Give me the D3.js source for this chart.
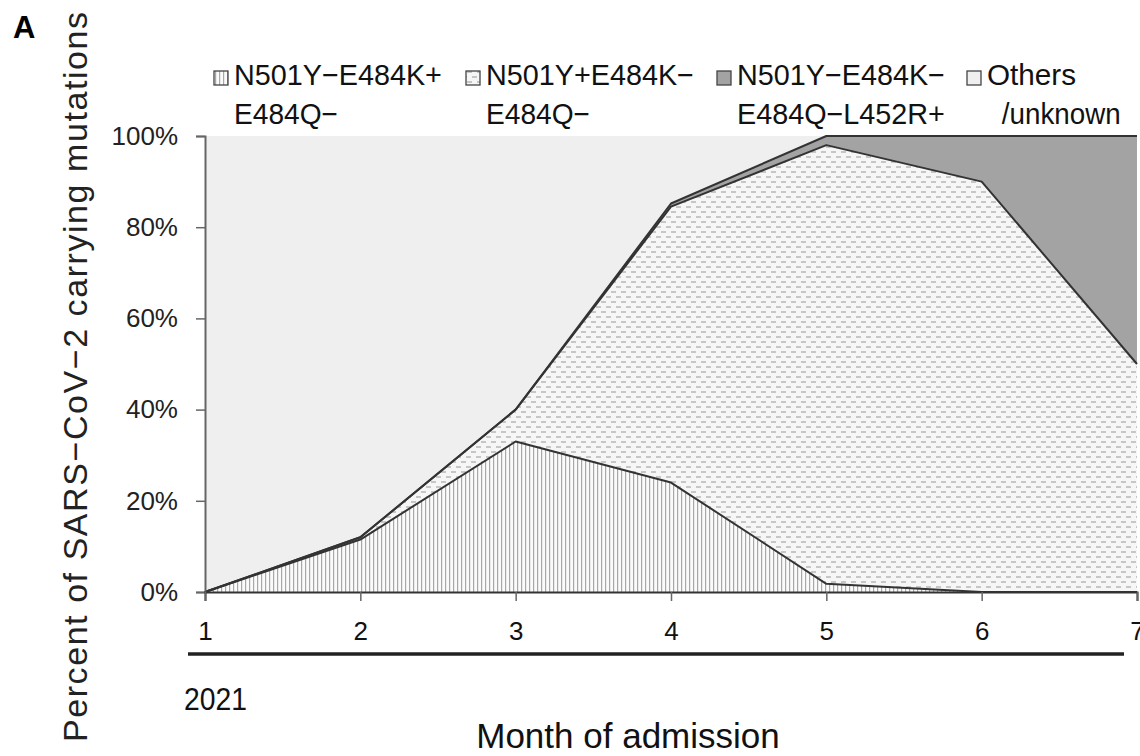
<!DOCTYPE html>
<html>
<head>
<meta charset="utf-8">
<script src="https://cdn.jsdelivr.net/npm/d3@7"></script>
<style>
  body { margin: 0; background: #fff; }
  text { font-family: "Liberation Sans", Arial, sans-serif; }
</style>
</head>
<body>
<script>
// month of admission, 2021
const months = [1, 2, 3, 4, 5, 6, 7];

// percent of cases per month
const e484kPos = [0, 11.5, 33, 24, 1.8, 0, 0];        // N501Y-E484K+E484Q-
const n501yPos = [0, 0.5, 7, 60.5, 96.2, 90, 50];     // N501Y+E484K-E484Q-
const l452rPos = [0, 0, 0, 0.7, 2, 10, 50];           // N501Y-E484K-E484Q-L452R+
const othersUnk = [100, 88, 60, 14.8, 0, 0, 0];       // Others/unknown

const keys = ["e484k", "n501y", "l452r", "others"];
const legendLine1 = ["N501Y\u2212E484K+", "N501Y+E484K\u2212", "N501Y\u2212E484K\u2212", "Others"];
const legendLine2 = ["E484Q\u2212", "E484Q\u2212", "E484Q\u2212L452R+", " /unknown"];
const yTicks = [0, 20, 40, 60, 80, 100];

const rows = months.map((m, i) => ({
  month: m,
  e484k: e484kPos[i],
  n501y: n501yPos[i],
  l452r: l452rPos[i],
  others: othersUnk[i]
}));

const width = 1140, height = 756;
const x0 = 205, x1 = 1137, yTop = 136, yBot = 592;

const svg = d3.select("body").append("svg")
  .attr("width", width)
  .attr("height", height);

const defs = svg.append("defs");

// vertical hatching
const pv = defs.append("pattern")
  .attr("id", "vlines").attr("patternUnits", "userSpaceOnUse")
  .attr("width", 4).attr("height", 4);
pv.append("rect").attr("width", 4).attr("height", 4).attr("fill", "#fbfbfb");
pv.append("rect").attr("x", 1).attr("width", 1.2).attr("height", 4).attr("fill", "#a8a8a8");

// staggered dashes
const pd = defs.append("pattern")
  .attr("id", "dashes").attr("patternUnits", "userSpaceOnUse")
  .attr("width", 10).attr("height", 10);
pd.append("rect").attr("width", 10).attr("height", 10).attr("fill", "#f6f6f6");
pd.append("rect").attr("x", 1).attr("y", 1).attr("width", 5).attr("height", 2).attr("fill", "#c6c6c6");
pd.append("rect").attr("x", 6).attr("y", 6).attr("width", 5).attr("height", 2).attr("fill", "#c6c6c6");
pd.append("rect").attr("x", -4).attr("y", 6).attr("width", 5).attr("height", 2).attr("fill", "#c6c6c6");

const fills = {
  e484k: "url(#vlines)",
  n501y: "url(#dashes)",
  l452r: "#a3a3a3",
  others: "#efefef"
};

const x = d3.scaleLinear().domain([1, 7]).range([x0, x1]);
const y = d3.scaleLinear().domain([0, 100]).range([yBot, yTop]);

const stacked = d3.stack().keys(keys)(rows);

const area = d3.area()
  .x(d => x(d.data.month))
  .y0(d => y(d[0]))
  .y1(d => y(d[1]));

const topLine = d3.line()
  .x(d => x(d.data.month))
  .y(d => y(d[1]));

const g = svg.append("g");

g.selectAll("path.layer")
  .data(stacked)
  .join("path")
  .attr("class", "layer")
  .attr("fill", d => fills[d.key])
  .attr("d", area);

// boundary lines between layers (not the 100% edge)
g.selectAll("path.edge")
  .data(stacked.slice(0, 3))
  .join("path")
  .attr("class", "edge")
  .attr("fill", "none")
  .attr("stroke", "#333")
  .attr("stroke-width", 2)
  .attr("stroke-linejoin", "round")
  .attr("d", topLine);

// y axis
const yAxis = svg.append("g")
  .attr("transform", `translate(${x0},0)`)
  .call(d3.axisLeft(y).tickValues(yTicks).tickSize(9).tickPadding(18).tickFormat(d => d + "%"));
yAxis.select(".domain").attr("stroke", "#666").attr("stroke-width", 2);
yAxis.selectAll(".tick line").attr("stroke", "#666").attr("stroke-width", 1.5);
yAxis.selectAll(".tick text")
  .attr("font-family", "'Liberation Sans', Arial, sans-serif")
  .attr("font-size", 26).attr("fill", "#222");

// x axis
const xAxis = svg.append("g")
  .attr("transform", `translate(0,${yBot})`)
  .call(d3.axisBottom(x).tickValues(months).tickSize(9).tickPadding(21).tickFormat(d3.format("d")));
xAxis.select(".domain").attr("stroke", "#333").attr("stroke-width", 2);
xAxis.selectAll(".tick line").attr("stroke", "#666").attr("stroke-width", 1.5);
xAxis.selectAll(".tick text")
  .attr("font-family", "'Liberation Sans', Arial, sans-serif")
  .attr("font-size", 26).attr("fill", "#111");

// year bracket
svg.append("line")
  .attr("x1", 188).attr("x2", 1124).attr("y1", 654).attr("y2", 654)
  .attr("stroke", "#222").attr("stroke-width", 3.5);

svg.append("text")
  .attr("x", 184).attr("y", 710)
  .attr("font-size", 32).attr("fill", "#111")
  .attr("textLength", 63).attr("lengthAdjust", "spacingAndGlyphs")
  .text("2021");

svg.append("text")
  .attr("x", 628).attr("y", 748)
  .attr("text-anchor", "middle")
  .attr("font-size", 35).attr("fill", "#111")
  .text("Month of admission");

// y title
svg.append("text")
  .attr("transform", "translate(87,377) rotate(-90)")
  .attr("text-anchor", "middle")
  .attr("font-size", 34).attr("fill", "#222")
  .attr("textLength", 730).attr("lengthAdjust", "spacing")
  .text("Percent of SARS\u2212CoV\u22122 carrying mutations");

// panel letter
svg.append("text")
  .attr("x", 13).attr("y", 38)
  .attr("font-size", 31).attr("font-weight", "bold")
  .text("A");

// legend (Japanese-gothic style widths: half-width glyphs, full-width minus/plus)
const legendTextX = [234, 486, 737, 987];
const emPx = 29.7;
const emWidth = s => Array.from(s).reduce((w, c) => w + ("\u2212+".includes(c) ? 1 : 0.5), 0) * emPx;
const legendSwatch = {
  e484k: "url(#vlines)", n501y: "url(#dashes)", l452r: "#a3a3a3", others: "#efefef"
};
const leg = svg.append("g").selectAll("g")
  .data(keys)
  .join("g")
  .attr("transform", (d, i) => `translate(${legendTextX[i]},0)`);
leg.append("rect")
  .attr("x", -20).attr("y", 71).attr("width", 14).attr("height", 14)
  .attr("fill", d => legendSwatch[d])
  .attr("stroke", "#444").attr("stroke-width", 1.3);
leg.append("text")
  .attr("x", 0).attr("y", 85)
  .attr("font-size", 29).attr("fill", "#111")
  .attr("textLength", (d, i) => emWidth(legendLine1[i]))
  .attr("lengthAdjust", "spacingAndGlyphs")
  .text((d, i) => legendLine1[i]);
leg.append("text")
  .attr("x", (d, i) => legendLine2[i].startsWith(" ") ? emPx * 0.5 : 0).attr("y", 124)
  .attr("font-size", 29).attr("fill", "#111")
  .attr("textLength", (d, i) => emWidth(legendLine2[i].trim()))
  .attr("lengthAdjust", "spacingAndGlyphs")
  .text((d, i) => legendLine2[i].trim());
</script>
</body>
</html>
